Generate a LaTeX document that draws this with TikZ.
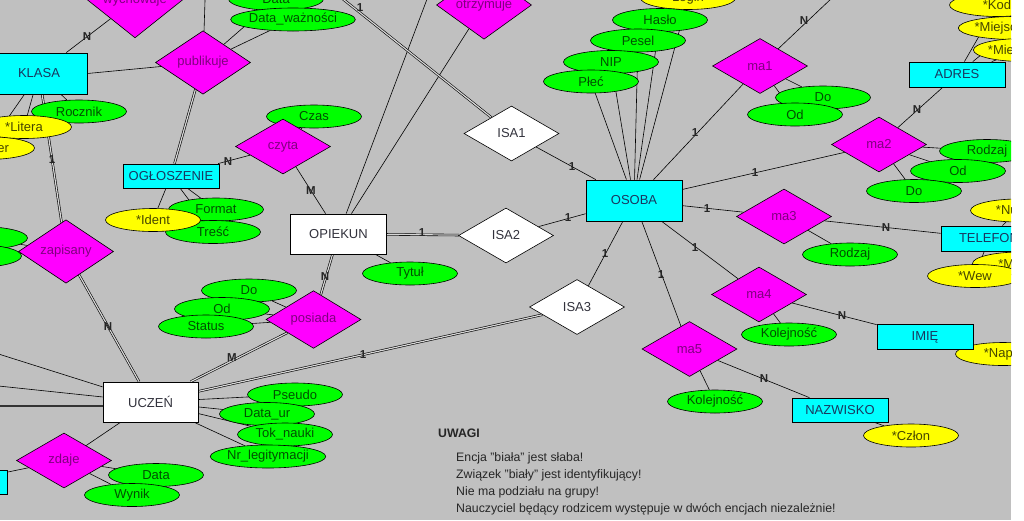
\documentclass[tikz,border=0pt]{standalone}
\usepackage{fontspec}
\setmainfont{Liberation Sans}
\usetikzlibrary{
  shapes.geometric, % 菱形与椭圆
  backgrounds       % 连线放在背景层
}
\definecolor{tlo}{RGB}{192,192,192}
\definecolor{cyjan}{RGB}{0,255,255}
\definecolor{maj}{RGB}{255,0,255}
\definecolor{ziel}{RGB}{0,255,0}
\definecolor{zolty}{RGB}{255,255,0}
\definecolor{tEnt}{RGB}{25,55,95}
\definecolor{tZiel}{RGB}{0,80,0}
\definecolor{tZolty}{RGB}{70,70,0}
\definecolor{tMaj}{RGB}{128,0,128}
\definecolor{tBialy}{RGB}{50,50,60}

\begin{document}
\begin{tikzpicture}[x=1pt, y=-1pt,
  every node/.style={font=\fontsize{13}{15}\selectfont, inner sep=0pt},
  ent/.style={draw, line width=0.8pt, fill=cyjan, text=tEnt, minimum width=96pt, minimum height=24pt},
  slaba/.style={draw, line width=0.8pt, fill=white, text=tBialy, minimum width=96pt, minimum height=40pt},
  zwiazek/.style={diamond, draw, line width=0.6pt, fill=maj, text=tMaj, minimum width=95pt, minimum height=55pt},
  isa/.style={zwiazek, fill=white, text=tBialy},
  atr/.style={ellipse, draw, line width=0.6pt, fill=ziel, text=tZiel, minimum width=95pt, minimum height=23pt},
  klucz/.style={atr, fill=zolty, text=tZolty},
  lbl/.style={font=\fontsize{11.5}{13}\selectfont\bfseries, text=black!85},
  uw/.style={font=\fontsize{12.3}{14}\selectfont, anchor=west, text=black!85},
  lin/.style={line width=0.6pt},
  dbl/.style={double=white!35!tlo, double distance=1.2pt, line width=0.6pt}
]
  \useasboundingbox (0,0) rectangle (1024,520);

  \begin{scope}
  \clip (0,0) rectangle (1011,520);

  % 属性（椭圆）
  \node[atr] (data1) at (276,-1) {Data};
  \node[atr] (dataw) at (293,19.5) {Data\_ważności};
  \node[atr] (rocznik) at (79,111.5) {Rocznik};
  \node[klucz] (numer) at (-13,148) {*Numer};
  \node[klucz] (litera) at (24,127) {*Litera};
  \node[atr] (czas) at (314,116.5) {Czas};
  \node[atr] (format) at (216,209.5) {Format};
  \node[atr] (tresc) at (213,232) {Treść};
  \node[klucz] (ident) at (153,220) {*Ident};
  \node[atr] (tytul) at (410,273.5) {Tytuł};
  \node[atr] (do1) at (249,290.5) {Do};
  \node[atr] (od1) at (222,309) {Od};
  \node[atr] (status) at (206,326.5) {Status};
  \node[atr] (zl1) at (-20,238) {};
  \node[atr] (zl2) at (-26,256) {};
  \node[atr] (pseudo) at (295,394.5) {Pseudo};
  \node[atr] (dataur) at (267,414) {Data\_ur};
  \node[atr] (tok) at (285,434.5) {Tok\_nauki};
  \node[atr] (nrleg) at (268,456.5) {Nr\_legitymacji};
  \node[atr] (data2) at (156,475) {Data};
  \node[atr] (wynik) at (132,495) {Wynik};
  \node[klucz] (login) at (688,-2) {Login};
  \node[atr] (haslo) at (660,20) {Hasło};
  \node[atr] (pesel) at (638,40.5) {Pesel};
  \node[atr] (nip) at (611,62) {NIP};
  \node[atr] (plec) at (591,81.5) {Płeć};
  \node[atr] (do2) at (823,97.5) {Do};
  \node[atr] (od2) at (795,114.5) {Od};
  \node[atr] (rodzaj1) at (987,151) {Rodzaj};
  \node[atr] (od3) at (958,171) {Od};
  \node[atr] (do3) at (914,191) {Do};
  \node[atr] (rodzaj2) at (850,254.5) {Rodzaj};
  \node[atr] (kol1) at (789,334.5) {Kolejność};
  \node[atr] (kol2) at (715,401.5) {Kolejność};
  \node[klucz] (czlon) at (911,435.5) {*Człon};
  \node[klucz] (kod) at (997,5) {*Kod};
  \node[klucz] (miejsc) at (1014,28) {*Miejscowość};
  \node[klucz] (mieszk) at (1023,50) {*Mieszkanie};
  \node[klucz] (telnr) at (1018,210.5) {*Numer};
  \node[klucz] (maska) at (1020,263.5) {*Maska};
  \node[klucz] (wew) at (975,276) {*Wew};
  \node[klucz] (napis) at (1003,354) {*Napis};

  % 实体
  \node[ent, minimum height=41pt] (klasa) at (39,73.5) {KLASA};
  \node[ent] (ogloszenie) at (171,176) {OGŁOSZENIE};
  \node[ent, minimum height=41pt] (osoba) at (634,200.5) {OSOBA};
  \node[ent, minimum height=25pt] (adres) at (957,74.5) {ADRES};
  \node[ent, minimum height=25pt] (telefon) at (989,238.5) {TELEFON};
  \node[ent, minimum height=25pt] (imie) at (925,337) {IMIĘ};
  \node[ent] (nazwisko) at (840,410) {NAZWISKO};
  \node[ent] (lewa) at (-41,482) {};
  \node[slaba] (opiekun) at (338.5,234) {OPIEKUN};
  \node[slaba, minimum width=95pt] (uczen) at (150.5,402) {UCZEŃ};

  % 联系（菱形）
  \node[zwiazek] (wychowuje) at (135,0) {wychowuje};
  \node[zwiazek] (publikuje) at (203,62.5) {publikuje};
  \node[zwiazek] (czyta) at (283,146.5) {czyta};
  \node[zwiazek] (otrzymuje) at (484,5) {otrzymuje};
  \node[zwiazek] (zapisany) at (66,251.5) {zapisany};
  \node[zwiazek] (posiada) at (313.5,319.5) {posiada};
  \node[zwiazek] (zdaje) at (64,460.5) {zdaje};
  \node[zwiazek] (ma1) at (760,66) {ma1};
  \node[zwiazek] (ma2) at (879,144.5) {ma2};
  \node[zwiazek] (ma3) at (784,216.5) {ma3};
  \node[zwiazek] (ma4) at (759,294.5) {ma4};
  \node[zwiazek] (ma5) at (689.5,349) {ma5};
  \node[isa] (isa1) at (511.5,133.5) {ISA1};
  \node[isa] (isa2) at (506,235.5) {ISA2};
  \node[isa] (isa3) at (577,307) {ISA3};

  % 基数标注
  \node[lbl] (c1) at (87,37) {N};
  \node[lbl] (c2) at (52,160) {1};
  \node[lbl] (c3) at (108,327) {N};
  \node[lbl] (c4) at (228,162) {N};
  \node[lbl] (c5) at (311,191) {M};
  \node[lbl] (c6) at (325,277) {N};
  \node[lbl] (c7) at (232,358) {M};
  \node[lbl] (c8) at (363,355) {1};
  \node[lbl] (c9) at (422,233) {1};
  \node[lbl] (c10) at (360,8) {1};
  \node[lbl] (c11) at (572,167) {1};
  \node[lbl] (c12) at (568,218) {1};
  \node[lbl] (c13) at (605,254) {1};
  \node[lbl] (c14) at (661,275) {1};
  \node[lbl] (c15) at (695,248) {1};
  \node[lbl] (c16) at (707,209) {1};
  \node[lbl] (c17) at (755,173) {1};
  \node[lbl] (c18) at (695,133) {1};
  \node[lbl] (c19) at (804,21) {N};
  \node[lbl] (c20) at (917,110) {N};
  \node[lbl] (c21) at (886,228) {N};
  \node[lbl] (c22) at (842,316) {N};
  \node[lbl] (c23) at (764,379) {N};

  % 说明文字
  \node[uw, font=\fontsize{12.3}{14}\selectfont\bfseries] (uwagi) at (438,433) {UWAGI};
  \node[uw] (u1) at (456,458) {Encja "biała" jest słaba!};
  \node[uw] (u2) at (456,475) {Związek "biały" jest identyfikujący!};
  \node[uw] (u3) at (456,492) {Nie ma podziału na grupy!};
  \node[uw] (u4) at (456,509) {Nauczyciel będący rodzicem występuje w dwóch encjach niezależnie!};
  \end{scope}

  % 图外端点
  \coordinate (pubTop) at (206,-30);
  \coordinate (opTop) at (438,-30);
  \coordinate (isaTop) at (319,-20);
  \coordinate (ma1Top) at (851,-20);
  \coordinate (lU1) at (-30,345);
  \coordinate (lU2) at (-30,383);
  \coordinate (lU3) at (-30,406);

  % 连线（背景层）
  \begin{scope}[on background layer]
  \clip (0,0) rectangle (1011,520);
  \fill[tlo] (0,0) rectangle (1011,520);
  \draw[lin] (klasa) -- (wychowuje);
  \draw[lin] (klasa.east) -- (publikuje);
  \draw[dbl] (klasa) -- (zapisany);
  \draw[lin] (klasa) -- (rocznik);
  \draw[lin] (klasa) -- (litera);
  \draw[lin] (klasa) -- (numer);
  \draw[lin] (publikuje) -- (pubTop);
  \draw[lin] (publikuje) -- (data1);
  \draw[lin] (publikuje) -- (dataw);
  \draw[dbl] (publikuje) -- (ogloszenie);
  \draw[lin] (czyta) -- (ogloszenie);
  \draw[lin] (czyta) -- (opiekun);
  \draw[lin] (czyta) -- (czas);
  \draw[lin] (ogloszenie) -- (ident);
  \draw[lin] (ogloszenie) -- (format);
  \draw[lin] (ogloszenie) -- (tresc);
  \draw[lin] (opiekun) -- (otrzymuje);
  \draw[lin] (opiekun) -- (opTop);
  \draw[dbl] (opiekun) -- (isa2);
  \draw[lin] (opiekun) -- (tytul);
  \draw[dbl] (posiada) -- (opiekun);
  \draw[dbl] (posiada) -- (uczen);
  \draw[lin] (posiada) -- (do1);
  \draw[lin] (posiada) -- (od1);
  \draw[lin] (posiada) -- (status);
  \draw[dbl] (zapisany) -- (uczen);
  \draw[lin] (zapisany) -- (zl1);
  \draw[lin] (zapisany) -- (zl2);
  \draw[lin] (lU1) -- (uczen);
  \draw[lin] (lU2) -- (uczen);
  \draw[lin, line width=1.3pt, black!80] (lU3) -- (lU3 -| uczen.west);
  \draw[dbl] (uczen) -- (isa3);
  \draw[lin] (uczen) -- (pseudo);
  \draw[lin] (uczen) -- (dataur);
  \draw[lin] (uczen) -- (tok);
  \draw[lin] (uczen) -- (nrleg);
  \draw[lin] (uczen) -- (zdaje);
  \draw[lin] (zdaje) -- (lewa);
  \draw[lin] (zdaje) -- (data2);
  \draw[lin] (zdaje) -- (wynik);
  \draw[dbl] (isa1) -- (isaTop);
  \draw[lin] (isa1) -- (osoba);
  \draw[lin] (isa2) -- (osoba);
  \draw[lin] (isa3) -- (osoba);
  \draw[lin] (osoba) -- (login);
  \draw[lin] (osoba) -- (haslo);
  \draw[lin] (osoba) -- (pesel);
  \draw[lin] (osoba) -- (nip);
  \draw[lin] (osoba) -- (plec);
  \draw[lin] (osoba) -- (ma1);
  \draw[lin] (osoba) -- (ma2);
  \draw[lin] (osoba) -- (ma3);
  \draw[lin] (osoba) -- (ma4);
  \draw[lin] (osoba) -- (ma5);
  \draw[lin] (ma1) -- (ma1Top);
  \draw[lin] (ma1) -- (do2);
  \draw[lin] (ma1) -- (od2);
  \draw[lin] (ma2) -- (adres);
  \draw[lin] (ma2) -- (rodzaj1);
  \draw[lin] (ma2) -- (od3);
  \draw[lin] (ma2) -- (do3);
  \draw[lin] (adres) -- (kod);
  \draw[lin] (adres) -- (miejsc);
  \draw[lin] (adres) -- (mieszk);
  \draw[lin] (ma3) -- (telefon);
  \draw[lin] (ma3) -- (rodzaj2);
  \draw[lin] (telefon) -- (telnr);
  \draw[lin] (telefon) -- (maska);
  \draw[lin] (telefon) -- (wew);
  \draw[lin] (ma4) -- (imie);
  \draw[lin] (ma4) -- (kol1);
  \draw[lin] (imie) -- (napis);
  \draw[lin] (ma5) -- (nazwisko);
  \draw[lin] (ma5) -- (kol2);
  \draw[lin] (nazwisko) -- (czlon);
  \end{scope}
\end{tikzpicture}
\end{document}
